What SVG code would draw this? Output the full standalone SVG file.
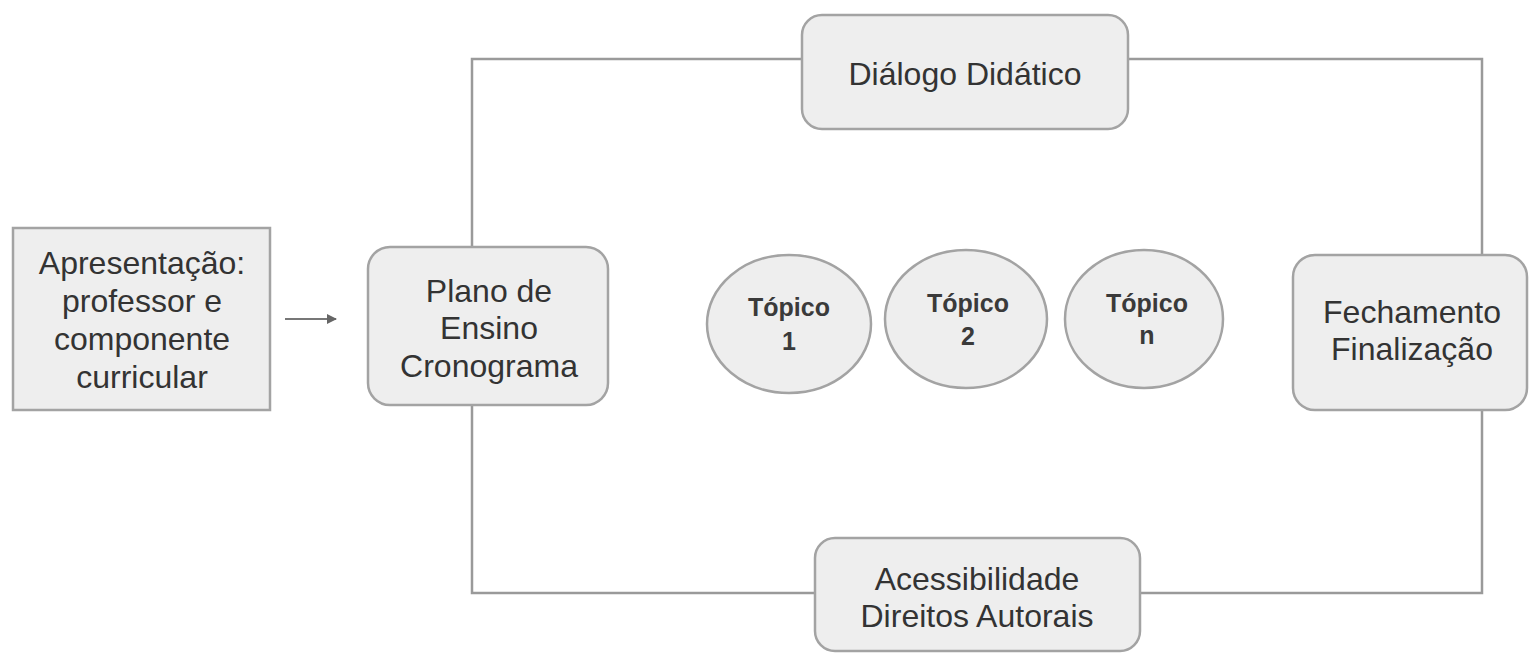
<svg xmlns="http://www.w3.org/2000/svg" width="1529" height="653" viewBox="0 0 1529 653">
<defs>
<style>
.box{fill:#eeeeee;stroke:#a3a3a3;stroke-width:2.5}
.t{font-family:"Liberation Sans",Arial,sans-serif;font-size:32px;fill:#333333;text-anchor:middle}
.tb{font-family:"Liberation Sans",Arial,sans-serif;font-size:25px;font-weight:bold;fill:#3a3a3a;text-anchor:middle}
.ln{fill:none;stroke:#9a9a9a;stroke-width:2.5}
</style>
<marker id="ah" viewBox="0 0 10 10" refX="9" refY="5" markerWidth="11" markerHeight="10" markerUnits="userSpaceOnUse" orient="auto">
<path d="M0,0 L10,5 L0,10 z" fill="#666666"/>
</marker>
</defs>
<rect width="1529" height="653" fill="#ffffff"/>
<g id="connectors">
<path class="ln" d="M472,247 V59 H802"/>
<path class="ln" d="M1128,59 H1482 V255"/>
<path class="ln" d="M472,405 V593 H815"/>
<path class="ln" d="M1140,593 H1482 V410"/>
<line x1="285" y1="319" x2="336" y2="319" stroke="#777777" stroke-width="2" marker-end="url(#ah)"/>
</g>
<g id="apresentacao">
<rect class="box" x="13" y="228" width="257" height="182"/>
<text class="t" x="142" y="274">Apresentação:</text>
<text class="t" x="142" y="312">professor e</text>
<text class="t" x="142" y="350">componente</text>
<text class="t" x="142" y="388">curricular</text>
</g>
<g id="plano">
<rect class="box" x="368" y="247" width="240" height="158" rx="22"/>
<text class="t" x="489" y="302">Plano de</text>
<text class="t" x="489" y="339">Ensino</text>
<text class="t" x="489" y="377">Cronograma</text>
</g>
<g id="dialogo">
<rect class="box" x="802" y="15" width="326" height="114" rx="20"/>
<text class="t" x="965" y="85">Diálogo Didático</text>
</g>
<g id="topico1">
<ellipse class="box" cx="789" cy="324" rx="82" ry="69"/>
<text class="tb" x="789" y="316">Tópico</text>
<text class="tb" x="789" y="350">1</text>
</g>
<g id="topico2">
<ellipse class="box" cx="966" cy="319" rx="81" ry="69"/>
<text class="tb" x="968" y="312">Tópico</text>
<text class="tb" x="968" y="345">2</text>
</g>
<g id="topicon">
<ellipse class="box" cx="1144" cy="319" rx="79" ry="69"/>
<text class="tb" x="1147" y="312">Tópico</text>
<text class="tb" x="1147" y="344">n</text>
</g>
<g id="fechamento">
<rect class="box" x="1293" y="255" width="234" height="155" rx="22"/>
<text class="t" x="1412" y="323">Fechamento</text>
<text class="t" x="1412" y="360">Finalização</text>
</g>
<g id="acessibilidade">
<rect class="box" x="815" y="538" width="325" height="113" rx="20"/>
<text class="t" x="977" y="590">Acessibilidade</text>
<text class="t" x="977" y="627">Direitos Autorais</text>
</g>
</svg>
